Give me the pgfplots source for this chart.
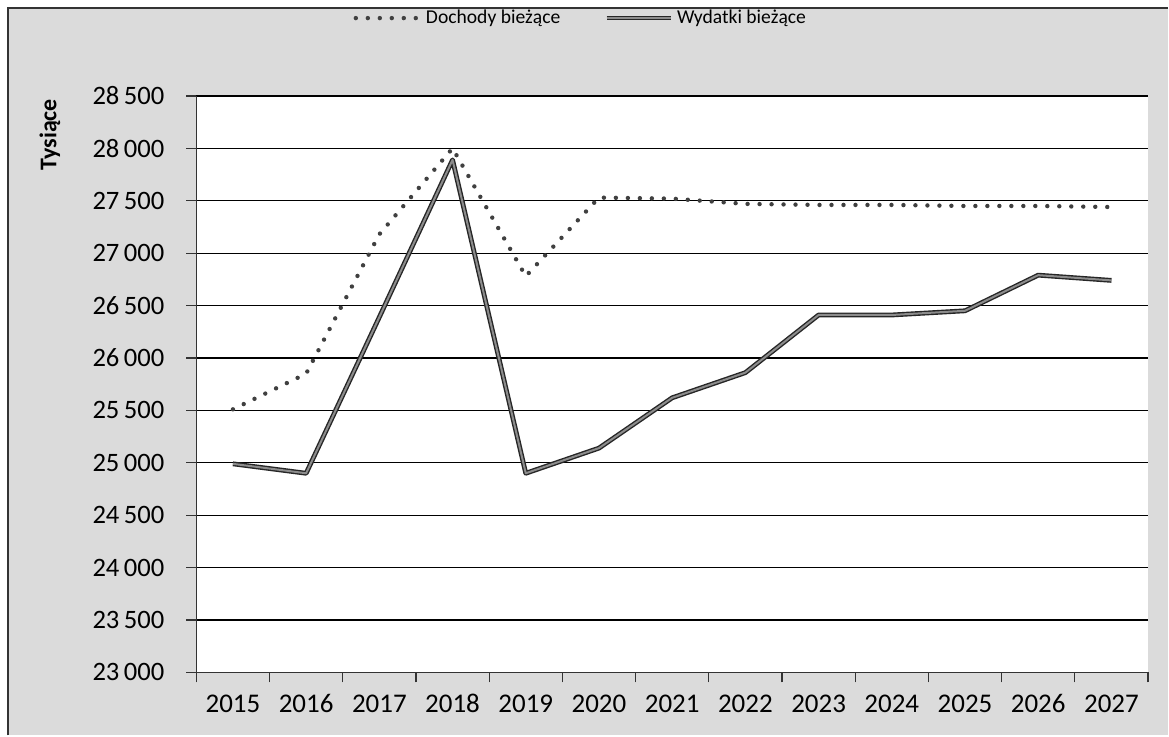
\documentclass[border=0pt]{standalone}
\usepackage{pgfplots}
\pgfplotsset{compat=1.18}
\usepackage{fontspec}
\setmainfont{Carlito}

\pgfplotstableread{
x dochody wydatki
0 25510 24990
1 25850 24900
2 27180 26390
3 28000 27890
4 26780 24900
5 27530 25140
6 27520 25620
7 27470 25860
8 27460 26410
9 27460 26410
10 27450 26450
11 27450 26790
12 27440 26740
}\datatable

\begin{document}
\begin{tikzpicture}[x=1pt,y=1pt]
\fill[white] (0,0) rectangle (584.5,368);
\fill[black!14] (4,0) rectangle (584.5,364);
\draw[black!80, line width=1pt] (4,0) -- (4,364) -- (584.5,364);
\node[rotate=90, font=\bfseries\fontsize{12}{13}\selectfont] at (25,300.5) {Tysiące};
\begin{axis}[
  at={(98.25pt,31.5pt)}, anchor=south west,
  scale only axis, width=476.25pt, height=288.5pt,
  xmin=-0.5, xmax=12.5, ymin=23000, ymax=28500,
  axis background/.style={fill=white},
  axis x line*=bottom, axis y line*=left,
  axis line style={black!80, line width=0.8pt, -},
  tick align=outside, major tick length=5pt,
  tick style={black!80, line width=0.6pt},
  xtick={-0.5,0.5,...,12.5}, xticklabels={},
  extra x ticks={0,...,12},
  extra x tick labels={2015,2016,2017,2018,2019,2020,2021,2022,2023,2024,2025,2026,2027},
  extra x tick style={major tick length=0pt, grid=none},
  ytick={23000,23500,...,28500},
  scaled y ticks=false,
  ymajorgrids=true,
  major grid style={black, line width=0.6pt},
  /pgf/number format/assume math mode=true,
  /pgf/number format/fixed,
  /pgf/number format/precision=0,
  /pgf/number format/1000 sep={\,},
  yticklabel style={font=\fontsize{13.3}{15}\selectfont, xshift=-7.5pt},
  xticklabel style={font=\fontsize{13.5}{15}\selectfont, text height=1.6ex, text depth=0.2ex, yshift=-9pt},
  legend style={at={(0.405,1.135)}, anchor=center, draw=none, fill=none,
    legend columns=2, font=\fontsize{9.8}{11}\selectfont,
    /tikz/every even column/.append style={column sep=20pt}},
  legend image code/.code={\draw[#1] (0pt,0pt) -- (32pt,0pt);},
]
\addplot[black!75, line width=2.2pt, line cap=round, dash pattern=on 0pt off 6pt] table[x=x,y=dochody] {\datatable};
\addlegendentry{Dochody bieżące}
\addplot[draw=black!85, line width=0.7pt, double=black!45, double distance=1pt, line join=round] table[x=x,y=wydatki] {\datatable};
\addlegendentry{Wydatki bieżące}
\end{axis}
\end{tikzpicture}
\end{document}
